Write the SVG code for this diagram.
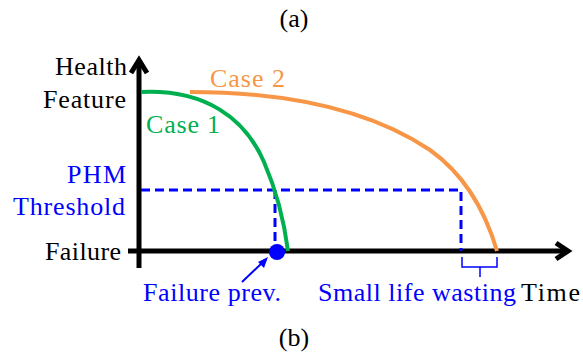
<svg xmlns="http://www.w3.org/2000/svg" width="583" height="355" viewBox="0 0 583 355">
<style>
text{font-family:"Liberation Serif","Times New Roman",serif;font-size:26px}
.k{fill:#000}.b{fill:#0000ff}.g{fill:#00b050}.o{fill:#f79646}
.ax{stroke:#000;stroke-width:5;fill:none}
.dash{stroke:#0000ff;stroke-width:3;stroke-dasharray:9 5;fill:none}
</style>
<rect width="583" height="355" fill="#fff"/>
<g id="labels">
<text x="294" y="27" text-anchor="middle" class="k" font-size="24">(a)</text>
<text x="294" y="346" text-anchor="middle" class="k" font-size="24">(b)</text>
</g>
<g id="axes">
<path class="ax" d="M139,268 V60"/>
<path class="ax" d="M131,73 L139,60 L147,73"/>
<path class="ax" d="M128,251 H566"/>
<path class="ax" d="M556,243 L568,251 L556,259"/>
<text x="127" y="75" text-anchor="end" class="k" textLength="72">Health</text>
<text x="126" y="108" text-anchor="end" class="k" textLength="83">Feature</text>
<text x="121" y="260" text-anchor="end" class="k" textLength="76">Failure</text>
<text x="521" y="301" class="k" textLength="59">Time</text>
</g>
<g id="connectors">
<path class="dash" d="M141,190 H461 V251"/>
<path class="dash" d="M275,190 V251"/>
</g>
<g id="case1">
<path d="M141,92 C205,89 245,118 264,162 C277,192 284,220 288,251" stroke="#00b050" stroke-width="4" fill="none"/>
<text x="146" y="133" class="g" textLength="74">Case 1</text>
</g>
<g id="case2">
<path d="M190,92 C290,92 370,110 430,150 C465,175 485,210 497,251" stroke="#f79646" stroke-width="4" fill="none"/>
<text x="210" y="87" class="o" textLength="75">Case 2</text>
</g>
<g id="threshold">
<text x="126" y="183" text-anchor="end" class="b" textLength="59">PHM</text>
<text x="125" y="215" text-anchor="end" class="b" textLength="112">Threshold</text>
</g>
<g id="failure-prev">
<circle cx="277" cy="252" r="8" fill="#0000ff"/>
<path d="M242,282 L263,262" stroke="#0000ff" stroke-width="2" fill="none"/>
<path d="M268,257 L258,262 L264,268 Z" fill="#0000ff"/>
<text x="143" y="301" class="b" textLength="138">Failure prev.</text>
</g>
<g id="life-wasting">
<path d="M462,257 V267 H497 V257 M480,267 V277" stroke="#0000ff" stroke-width="1.5" fill="none"/>
<text x="318" y="301" class="b" textLength="198">Small life wasting</text>
</g>
</svg>
